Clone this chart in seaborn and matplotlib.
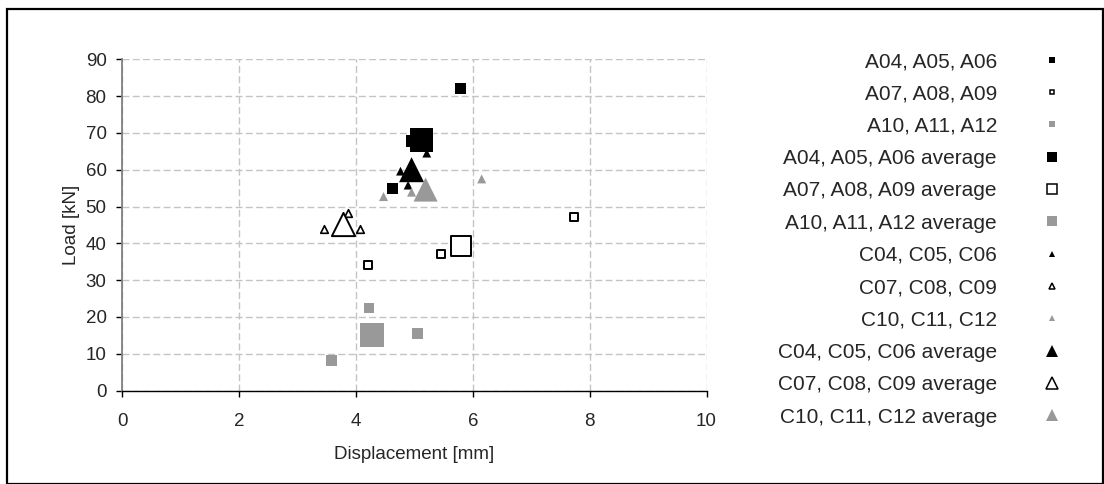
import matplotlib
matplotlib.use("Agg")
import matplotlib.pyplot as plt
from matplotlib.lines import Line2D
from matplotlib.patches import Rectangle
import seaborn as sns
import pandas as pd

# ---------------- data ----------------
a04_x = [5.78, 4.62, 4.95]
a04_y = [82.0, 55.0, 67.8]
a07_x = [4.20, 5.45, 7.73]
a07_y = [34.1, 37.0, 47.2]
a10_x = [3.58, 4.22, 5.05]
a10_y = [8.2, 22.4, 15.4]
a04_avg_x = [5.12]
a04_avg_y = [68.0]
a07_avg_x = [5.80]
a07_avg_y = [39.4]
a10_avg_x = [4.28]
a10_avg_y = [15.2]
c04_x = [5.21, 4.76, 4.89]
c04_y = [64.5, 59.6, 55.8]
c07_x = [3.45, 3.86, 4.07]
c07_y = [44.0, 48.3, 43.8]
c10_x = [4.47, 4.95, 6.15]
c10_y = [52.7, 53.9, 57.5]
c04_avg_x = [4.95]
c04_avg_y = [60.0]
c07_avg_x = [3.77]
c07_avg_y = [45.2]
c10_avg_x = [5.19]
c10_avg_y = [54.6]

labels = ["A04, A05, A06", "A07, A08, A09", "A10, A11, A12",
          "A04, A05, A06 average", "A07, A08, A09 average", "A10, A11, A12 average",
          "C04, C05, C06", "C07, C08, C09", "C10, C11, C12",
          "C04, C05, C06 average", "C07, C08, C09 average", "C10, C11, C12 average"]
xs = [a04_x, a07_x, a10_x, a04_avg_x, a07_avg_x, a10_avg_x,
      c04_x, c07_x, c10_x, c04_avg_x, c07_avg_x, c10_avg_x]
ys = [a04_y, a07_y, a10_y, a04_avg_y, a07_avg_y, a10_avg_y,
      c04_y, c07_y, c10_y, c04_avg_y, c07_avg_y, c10_avg_y]

x_ticks = [0, 2, 4, 6, 8, 10]
y_ticks = [0, 10, 20, 30, 40, 50, 60, 70, 80, 90]

# ---------------- styles ----------------
BLACK = "#000000"
GREY = "#999999"
WHITE = "#ffffff"
styles = [
    # marker, face, edge, size(s), lw, legend markersize
    ("s", BLACK, "none", 63, 0, 3.8),
    ("s", WHITE, BLACK, 31, 1.4, 3.4),
    ("s", GREY, "none", 59, 0, 3.8),
    ("s", BLACK, "none", 298, 0, 7.5),
    ("s", WHITE, BLACK, 207, 1.4, 6.6),
    ("s", GREY, "none", 298, 0, 7.5),
    ("^", BLACK, "none", 40, 0, 5.0),
    ("^", WHITE, BLACK, 30, 1.2, 4.6),
    ("^", GREY, "none", 42, 0, 5.0),
    ("^", BLACK, "none", 324, 0, 9.0),
    ("^", WHITE, BLACK, 280, 1.4, 8.2),
    ("^", GREY, "none", 300, 0, 9.0),
]

sns.set_style("white")
plt.rcParams["font.family"] = ["Liberation Sans", "DejaVu Sans"]

fig = plt.figure(figsize=(11.04, 4.84), dpi=100)
ax = fig.add_axes([122.5 / 1104, (484 - 390.5) / 484,
                   (706.5 - 122.5) / 1104, (390.5 - 59.3) / 484])

handles = []
for lab, x, y, (m, fc, ec, s, lw, lms) in zip(labels, xs, ys, styles):
    df = pd.DataFrame({"Displacement": x, "Load": y})
    sns.scatterplot(data=df, x="Displacement", y="Load", ax=ax, marker=m,
                    s=s, color=fc, edgecolor=ec, linewidth=lw, legend=False,
                    zorder=3)
    handles.append(Line2D([], [], linestyle="none", marker=m, markersize=lms,
                          markerfacecolor=fc,
                          markeredgecolor=(ec if ec != "none" else fc),
                          markeredgewidth=(1.1 if ec != "none" else 0),
                          label=lab))

ax.set_xlim(0, 10)
ax.set_ylim(0, 90)
ax.set_xticks(x_ticks)
ax.set_yticks(y_ticks)
ax.set_xticklabels([str(v) for v in x_ticks])
ax.set_yticklabels([str(v) for v in y_ticks])

ax.grid(True, color="#c4c4c4", linestyle=(0, (5, 2.4)), linewidth=1.0, zorder=0)
ax.set_axisbelow(True)
for side in ["top", "right"]:
    ax.spines[side].set_visible(False)
ax.spines["left"].set_color("#808080")
ax.spines["left"].set_linewidth(1.3)
ax.spines["bottom"].set_color("black")
ax.spines["bottom"].set_linewidth(1.0)

ax.tick_params(axis="x", direction="out", length=4, width=1.0, color="black",
               labelsize=13.5, pad=12, bottom=True)
ax.tick_params(axis="y", direction="out", length=4.5, width=1.0, color="black",
               labelsize=13.5, pad=7, left=True)

ax.set_xlabel("Displacement [mm]", fontsize=13.5, labelpad=12)
ax.set_ylabel("Load [kN]", fontsize=13.5, labelpad=4)

leg = fig.legend(handles=handles, loc="upper right",
                 bbox_to_anchor=(1060.3 / 1104, 1 - 52 / 484),
                 frameon=False, markerfirst=False, fontsize=15,
                 handlelength=0.8, handletextpad=2.24, labelspacing=0.64,
                 borderpad=0, borderaxespad=0)

fig.patches.append(Rectangle((7 / 1104, 0.5 / 484), (1103 - 7) / 1104, (484 - 9.5) / 484,
                             transform=fig.transFigure, fill=False,
                             edgecolor="black", linewidth=1.6))

fig.savefig("out.png", dpi=100)
